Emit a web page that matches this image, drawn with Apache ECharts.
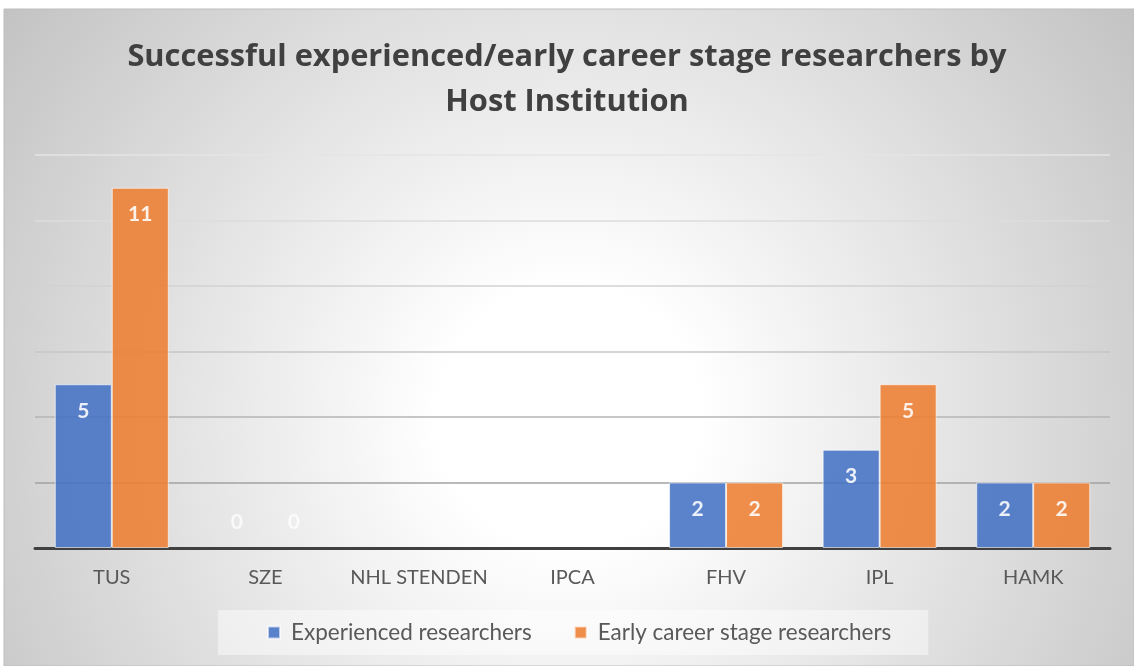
<!DOCTYPE html>
<html><head><meta charset="utf-8">
<script src="https://cdn.jsdelivr.net/npm/echarts@6/dist/echarts.min.js"></script>
<style>html,body{margin:0;padding:0;background:#fff;}#c{width:1134px;height:666px;}</style>
</head><body><div id="c"></div>
<script>
const categories = ['TUS', 'SZE', 'NHL STENDEN', 'IPCA', 'FHV', 'IPL', 'HAMK'];
const experienced = [5, 0, null, null, 2, 3, 2];
const earlyCareer = [11, 0, null, null, 2, 5, 2];
const seriesNames = ['Experienced researchers', 'Early career stage researchers'];
const titleText = 'Successful experienced/early career stage researchers by\nHost Institution';

function toData(arr) {
  return arr.map(v => v === 0 ? {value: 0, itemStyle: {borderWidth: 0}, label: {position: 'insideBottom', distance: 15, color: 'rgba(255,255,255,0.85)'}} : (v === null ? '-' : v));
}

const chart = echarts.init(document.getElementById('c'));
const font = 'Lato, "Open Sans", sans-serif';
chart.setOption({
  animation: false,
  graphic: [{
    type: 'rect', z: -10, silent: true,
    shape: {x: 4, y: 9, width: 1130, height: 657},
    style: {
      fill: new echarts.graphic.RadialGradient(0.5, 0.62, 1.1, [
        {offset: 0, color: '#ffffff'},
        {offset: 0.18, color: '#ffffff'},
        {offset: 1, color: '#c0c0c0'}
      ]),
      stroke: '#bdbdbd', lineWidth: 1
    }
  }],
  title: {
    text: titleText, left: 'center', top: 35, padding: [0, 0, 0, 12],
    textStyle: {fontFamily: '"Open Sans", Lato, sans-serif', fontWeight: 'bold', fontSize: 30.8, color: '#404040', lineHeight: 45}
  },
  legend: {
    data: seriesNames, left: 218, top: 610, padding: [11, 37, 11, 49], itemGap: 42,
    backgroundColor: 'rgba(255,255,255,0.45)',
    icon: 'rect', itemWidth: 12, itemHeight: 12,
    textStyle: {fontFamily: font, fontSize: 22.5, color: '#595959', padding: [0, 0, 0, 6]}
  },
  grid: {left: 35, right: 24, top: 155, bottom: 118, containLabel: false},
  xAxis: {
    type: 'category', data: categories,
    axisTick: {show: false},
    axisLine: {lineStyle: {color: '#404040', width: 3}},
    axisLabel: {interval: 0, fontFamily: font, fontSize: 20, color: '#595959', margin: 20}
  },
  yAxis: {
    type: 'value', min: 0, max: 12, interval: 2,
    axisLabel: {show: false}, axisLine: {show: false}, axisTick: {show: false},
    splitLine: {lineStyle: {width: 1.5, color: ['#999999', '#a2a2a2', '#b4b4b4', '#c6c6c6', '#d2d2d2', '#dcdcdc', '#e4e4e4']}}
  },
  series: [
    {
      name: seriesNames[0], type: 'bar', data: toData(experienced),
      barWidth: 57, barGap: '0%',
      itemStyle: {color: '#4472c4', opacity: 0.88, borderColor: 'rgba(255,255,255,0.7)', borderWidth: 1},
      label: {show: true, position: 'insideTop', distance: 16, color: '#fff', fontFamily: font, fontWeight: 'bold', fontSize: 21}
    },
    {
      name: seriesNames[1], type: 'bar', data: toData(earlyCareer),
      barWidth: 57,
      itemStyle: {color: '#ed7d31', opacity: 0.88, borderColor: 'rgba(255,255,255,0.7)', borderWidth: 1},
      label: {show: true, position: 'insideTop', distance: 16, color: '#fff', fontFamily: font, fontWeight: 'bold', fontSize: 21}
    }
  ]
});
</script></body></html>
